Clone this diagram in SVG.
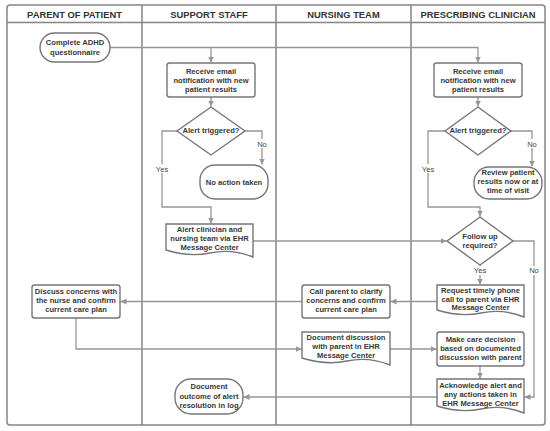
<svg xmlns="http://www.w3.org/2000/svg" width="550" height="431" viewBox="0 0 550 431">
<style>
.bg{fill:#fff}
.frame{fill:none;stroke:#858585;stroke-width:1.5}
.hdr{font-family:"Liberation Sans",Arial,sans-serif;font-size:9.4px;font-weight:bold;fill:#333;text-anchor:middle}
.node{fill:#fff;stroke:#767676;stroke-width:1.4}
.t{font-family:"Liberation Sans",Arial,sans-serif;font-size:7.6px;font-weight:bold;fill:#383838;text-anchor:middle}
.lbl{font-family:"Liberation Sans",Arial,sans-serif;font-size:7.6px;fill:#444;text-anchor:middle}
.c{fill:none;stroke:#969696;stroke-width:1.3}
.lb{fill:#fff}
</style>
<defs>
<marker id="ah" markerWidth="7" markerHeight="7" refX="6" refY="3.5" orient="auto" markerUnits="userSpaceOnUse">
<path d="M0,0.5 L6,3.5 L0,6.5 z" fill="#969696"/>
</marker>
</defs>
<rect class="bg" x="0" y="0" width="550" height="431"/>
<g id="lanes">
<rect class="frame" x="7" y="5" width="538" height="420" rx="3"/>
<line class="frame" x1="7" y1="22.5" x2="545" y2="22.5"/>
<line class="frame" x1="142" y1="5" x2="142" y2="425"/>
<line class="frame" x1="276" y1="5" x2="276" y2="425"/>
<line class="frame" x1="411" y1="5" x2="411" y2="425"/>
<text class="hdr" x="74.5" y="17.6">PARENT OF PATIENT</text>
<text class="hdr" x="209" y="17.6">SUPPORT STAFF</text>
<text class="hdr" x="343.5" y="17.6">NURSING TEAM</text>
<text class="hdr" x="478" y="17.6">PRESCRIBING CLINICIAN</text>
</g>
<g id="connectors">
<path class="c" d="M110,47.5 H478 V62.5" marker-end="url(#ah)"/>
<path class="c" d="M211,47.5 V62.5" marker-end="url(#ah)"/>
<path class="c" d="M211,97 V106.5" marker-end="url(#ah)"/>
<path class="c" d="M177,131 H162 V207 H211 V223.5" marker-end="url(#ah)"/>
<path class="c" d="M245,131 H262 V164.5" marker-end="url(#ah)"/>
<path class="c" d="M253,241 H446.5" marker-end="url(#ah)"/>
<path class="c" d="M478,97 V106.5" marker-end="url(#ah)"/>
<path class="c" d="M445,131 H428 V207 H480 V216.5" marker-end="url(#ah)"/>
<path class="c" d="M511,131 H532 V166.5" marker-end="url(#ah)"/>
<path class="c" d="M480,265 V284.5" marker-end="url(#ah)"/>
<path class="c" d="M513,241 H534 V397 H524.5" marker-end="url(#ah)"/>
<path class="c" d="M437,301.5 H390.5" marker-end="url(#ah)"/>
<path class="c" d="M302,301.5 H120.5" marker-end="url(#ah)"/>
<path class="c" d="M76,318 V349 H301.5" marker-end="url(#ah)"/>
<path class="c" d="M390,349 H436.5" marker-end="url(#ah)"/>
<path class="c" d="M480,366 V378.5" marker-end="url(#ah)"/>
<path class="c" d="M437,397 H243.5" marker-end="url(#ah)"/>
<rect class="lb" x="154" y="164" width="16" height="9"/>
<text class="lbl" x="162" y="171.5">Yes</text>
<rect class="lb" x="256" y="139" width="12" height="9"/>
<text class="lbl" x="262" y="146.5">No</text>
<rect class="lb" x="420" y="164" width="16" height="9"/>
<text class="lbl" x="428" y="171.5">Yes</text>
<rect class="lb" x="526" y="139" width="12" height="9"/>
<text class="lbl" x="532" y="146.5">No</text>
<rect class="lb" x="472" y="266" width="16" height="9"/>
<text class="lbl" x="480" y="273">Yes</text>
<rect class="lb" x="528" y="266" width="12" height="9"/>
<text class="lbl" x="534" y="273">No</text>
</g>
<g id="n1">
<rect class="node" x="40" y="33" width="70" height="29" rx="14.5"/>
<text class="t" x="75" y="45.3">Complete ADHD</text>
<text class="t" x="75" y="54.9">questionnaire</text>
</g>
<g id="n2">
<rect class="node" x="167" y="63" width="88" height="34" rx="2.5"/>
<text class="t" x="211" y="73.6">Receive email</text>
<text class="t" x="211" y="82.6">notification with new</text>
<text class="t" x="211" y="91.6">patient results</text>
</g>
<g id="n3">
<path class="node" d="M211,107 L245,131 L211,155 L177,131 Z"/>
<text class="t" x="211" y="132.8">Alert triggered?</text>
</g>
<g id="n4">
<rect class="node" x="200" y="165" width="68" height="34" rx="15"/>
<text class="t" x="234" y="184.6">No action taken</text>
</g>
<g id="n5">
<path class="node" d="M166,224 H253 V257 C238,251 224,250 210,253 C196,256 182,255 166,250 Z"/>
<text class="t" x="209.5" y="232">Alert clinician and</text>
<text class="t" x="209.5" y="241">nursing team via EHR</text>
<text class="t" x="209.5" y="250">Message Center</text>
</g>
<g id="n6">
<rect class="node" x="434" y="63" width="88" height="34" rx="2.5"/>
<text class="t" x="478" y="73.6">Receive email</text>
<text class="t" x="478" y="82.6">notification with new</text>
<text class="t" x="478" y="91.6">patient results</text>
</g>
<g id="n7">
<path class="node" d="M478,107 L511,131 L478,155 L445,131 Z"/>
<text class="t" x="478" y="132.8">Alert triggered?</text>
</g>
<g id="n8">
<rect class="node" x="474" y="167" width="68" height="32" rx="15"/>
<text class="t" x="508" y="175.3">Review patient</text>
<text class="t" x="508" y="184.3">results now or at</text>
<text class="t" x="508" y="193.3">time of visit</text>
</g>
<g id="n9">
<path class="node" d="M480,217 L513,241 L480,265 L447,241 Z"/>
<text class="t" x="480" y="238.6">Follow up</text>
<text class="t" x="480" y="247.6">required?</text>
</g>
<g id="n10">
<path class="node" d="M437,285 H524 V317 C509,311 495,310 481,313 C467,316 453,315 437,310 Z"/>
<text class="t" x="480.5" y="292.6">Request timely phone</text>
<text class="t" x="480.5" y="301.6">call to parent via EHR</text>
<text class="t" x="480.5" y="310.3">Message Center</text>
</g>
<g id="n11">
<rect class="node" x="302" y="285" width="88" height="33" rx="2.5"/>
<text class="t" x="346" y="294.3">Call parent to clarify</text>
<text class="t" x="346" y="303.3">concerns and confirm</text>
<text class="t" x="346" y="311.9">current care plan</text>
</g>
<g id="n12">
<rect class="node" x="32" y="285" width="88" height="33" rx="2.5"/>
<text class="t" x="76" y="294.3">Discuss concerns with</text>
<text class="t" x="76" y="303.3">the nurse and confirm</text>
<text class="t" x="76" y="311.9">current care plan</text>
</g>
<g id="n13">
<path class="node" d="M302,332 H390 V365 C375,359 361,358 347,361 C333,364 318,363 302,358 Z"/>
<text class="t" x="346" y="340.3">Document discussion</text>
<text class="t" x="346" y="349.3">with parent in EHR</text>
<text class="t" x="346" y="358.3">Message Center</text>
</g>
<g id="n14">
<rect class="node" x="437" y="332" width="87" height="34" rx="2.5"/>
<text class="t" x="480.5" y="341.9">Make care decision</text>
<text class="t" x="480.5" y="350.9">based on documented</text>
<text class="t" x="480.5" y="359.9">discussion with parent</text>
</g>
<g id="n15">
<path class="node" d="M437,379 H524 V413 C509,407 495,406 481,409 C467,412 453,411 437,406 Z"/>
<text class="t" x="480.5" y="388.3">Acknowledge alert and</text>
<text class="t" x="480.5" y="396.9">any actions taken in</text>
<text class="t" x="480.5" y="405.9">EHR Message Center</text>
</g>
<g id="n16">
<rect class="node" x="175" y="379" width="68" height="35" rx="16"/>
<text class="t" x="209" y="389.3">Document</text>
<text class="t" x="209" y="398.6">outcome of alert</text>
<text class="t" x="209" y="407.6">resolution in log</text>
</g>
</svg>
